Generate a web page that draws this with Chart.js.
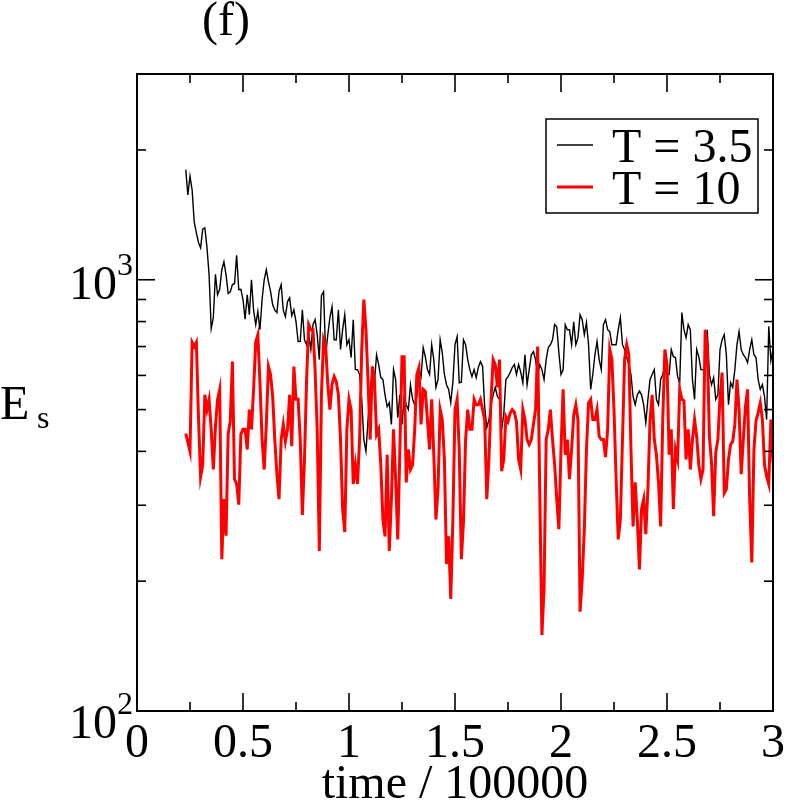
<!DOCTYPE html>
<html lang="en">
<head>
    <meta charset="UTF-8">
    <title>E_s vs time</title>
    <script src="https://cdn.jsdelivr.net/npm/chart.js"></script>
    <style>
        html, body { margin: 0; padding: 0; background: #fff; }
        #wrap { width: 786px; height: 803px; }
    </style>
</head>
<body>
<div id="wrap"><canvas id="esChart" width="786" height="803"></canvas></div>
<script>
    // time / 100000, sampled every 0.01
    const times = [
        0.23,0.24,0.25,0.26,0.27,0.28,0.29,0.30,0.31,0.32,0.33,0.34,0.35,0.36,0.37,0.38,0.39,0.40,0.41,0.42,
        0.43,0.44,0.45,0.46,0.47,0.48,0.49,0.50,0.51,0.52,0.53,0.54,0.55,0.56,0.57,0.58,0.59,0.60,0.61,0.62,
        0.63,0.64,0.65,0.66,0.67,0.68,0.69,0.70,0.71,0.72,0.73,0.74,0.75,0.76,0.77,0.78,0.79,0.80,0.81,0.82,
        0.83,0.84,0.85,0.86,0.87,0.88,0.89,0.90,0.91,0.92,0.93,0.94,0.95,0.96,0.97,0.98,0.99,1.00,1.01,1.02,
        1.03,1.04,1.05,1.06,1.07,1.08,1.09,1.10,1.11,1.12,1.13,1.14,1.15,1.16,1.17,1.18,1.19,1.20,1.21,1.22,
        1.23,1.24,1.25,1.26,1.27,1.28,1.29,1.30,1.31,1.32,1.33,1.34,1.35,1.36,1.37,1.38,1.39,1.40,1.41,1.42,
        1.43,1.44,1.45,1.46,1.47,1.48,1.49,1.50,1.51,1.52,1.53,1.54,1.55,1.56,1.57,1.58,1.59,1.60,1.61,1.62,
        1.63,1.64,1.65,1.66,1.67,1.68,1.69,1.70,1.71,1.72,1.73,1.74,1.75,1.76,1.77,1.78,1.79,1.80,1.81,1.82,
        1.83,1.84,1.85,1.86,1.87,1.88,1.89,1.90,1.91,1.92,1.93,1.94,1.95,1.96,1.97,1.98,1.99,2.00,2.01,2.02,
        2.03,2.04,2.05,2.06,2.07,2.08,2.09,2.10,2.11,2.12,2.13,2.14,2.15,2.16,2.17,2.18,2.19,2.20,2.21,2.22,
        2.23,2.24,2.25,2.26,2.27,2.28,2.29,2.30,2.31,2.32,2.33,2.34,2.35,2.36,2.37,2.38,2.39,2.40,2.41,2.42,
        2.43,2.44,2.45,2.46,2.47,2.48,2.49,2.50,2.51,2.52,2.53,2.54,2.55,2.56,2.57,2.58,2.59,2.60,2.61,2.62,
        2.63,2.64,2.65,2.66,2.67,2.68,2.69,2.70,2.71,2.72,2.73,2.74,2.75,2.76,2.77,2.78,2.79,2.80,2.81,2.82,
        2.83,2.84,2.85,2.86,2.87,2.88,2.89,2.90,2.91,2.92,2.93,2.94,2.95,2.96,2.97,2.98,2.99,3.00];

    // T = 3.5 (black)
    const esT35 = [
        1800,1572,1740,1615,1360,1285,1220,1186,1310,1319,1190,1027,770,817,1030,923,950,1055,1100,1027,
        930,938,975,979,1140,948,950,899,810,923,830,1000,850,787,845,766,900,1000,1055,990,
        940,875,850,839,940,974,850,821,890,908,825,852,800,719,720,852,726,707,746,689,
        787,808,746,653,918,938,670,746,817,866,726,726,852,689,766,830,707,726,660,808,
        619,619,603,528,426,400,474,557,619,580,670,636,593,587,541,508,519,462,619,587,
        479,541,462,533,513,500,571,528,513,536,619,596,696,663,619,603,707,653,563,587,
        726,677,603,571,557,519,579,707,738,577,579,726,707,653,619,596,619,593,626,646,
        630,508,454,474,513,541,563,536,528,450,487,587,596,609,626,636,603,636,611,577,
        670,571,619,670,681,653,603,636,619,587,653,696,707,726,787,778,677,603,619,787,
        766,766,707,799,707,734,830,808,746,795,707,557,603,670,719,653,619,787,808,766,
        758,707,707,707,766,817,707,689,660,636,603,536,513,541,552,541,513,466,528,587,
        603,619,528,513,587,603,632,603,603,689,663,660,596,577,839,766,734,787,766,587,
        528,689,663,619,619,612,766,603,571,593,528,541,689,726,746,670,513,577,563,619,
        707,758,689,670,660,642,689,726,670,660,587,557,571,536,474,780,650,689];

    // T = 10 (red)
    const esT10 = [
        440,420,400,716,700,716,480,349,372,541,500,528,450,363,456,528,557,225,310,255,
        438,471,646,345,336,301,438,450,450,404,500,450,557,716,745,577,426,363,462,629,
        603,536,426,354,310,426,462,422,450,541,411,629,528,528,426,285,383,587,787,766,
        766,619,450,235,541,726,700,572,500,572,596,580,541,426,294,260,450,528,500,336,
        372,336,426,689,900,766,577,426,629,587,438,450,372,278,254,393,235,310,450,345,
        250,404,663,663,339,404,363,372,450,603,626,462,557,551,474,404,528,393,278,327,
        500,474,383,219,254,182,278,500,528,404,225,275,426,500,450,450,528,513,513,528,
        500,474,310,383,528,653,636,563,653,360,383,481,469,490,500,493,469,383,363,500,
        474,426,415,426,462,500,700,320,150,192,426,450,500,426,372,310,264,404,557,393,
        426,345,404,485,513,474,170,202,264,404,518,528,474,474,500,433,426,426,388,450,
        690,653,500,345,250,278,426,653,707,670,404,268,339,278,213,294,310,257,327,474,
        541,426,393,339,268,474,689,636,393,450,294,404,383,557,528,524,383,450,363,426,
        474,433,372,345,363,766,700,433,377,283,398,426,534,609,320,327,383,415,422,462,
        587,500,354,426,508,557,310,221,404,471,492,518,474,372,350,336,474,377];

    const seriesLabels = ['T = 3.5', 'T = 10'];
    const xMajor = [0, 0.5, 1, 1.5, 2, 2.5, 3];
    const xTickLabels = ['0', '0.5', '1', '1.5', '2', '2.5', '3'];
    const xMinor = [0.25, 0.75, 1.25, 1.75, 2.25, 2.75];
    const yMajor = [100, 1000];
    const yTickExp = ['2', '3'];
    const yMinor = [200, 300, 400, 500, 600, 700, 800, 900, 2000, 3000];

    const SERIF = '"Liberation Serif", "Times New Roman", serif';

    function toPoints(vals) {
        return vals.map((v, i) => ({ x: times[i], y: v }));
    }

    function seg(ctx, x1, y1, x2, y2) {
        ctx.beginPath();
        ctx.moveTo(x1, y1);
        ctx.lineTo(x2, y2);
        ctx.stroke();
    }

    // frame, inward ticks, labels and legend in xmgrace style
    const gracePlugin = {
        id: 'grace',
        afterDraw(chart) {
            const ctx = chart.ctx;
            const a = chart.chartArea;
            const xs = chart.scales.x, ys = chart.scales.y;
            ctx.save();
            ctx.strokeStyle = '#000';
            ctx.fillStyle = '#000';

            ctx.lineWidth = 2;
            ctx.strokeRect(a.left, a.top, a.right - a.left, a.bottom - a.top);

            ctx.lineWidth = 1.6;
            xMajor.forEach(v => {
                const px = xs.getPixelForValue(v);
                seg(ctx, px, a.bottom, px, a.bottom - 18);
                seg(ctx, px, a.top, px, a.top + 18);
            });
            xMinor.forEach(v => {
                const px = xs.getPixelForValue(v);
                seg(ctx, px, a.bottom, px, a.bottom - 9);
                seg(ctx, px, a.top, px, a.top + 9);
            });
            yMajor.forEach(v => {
                const py = ys.getPixelForValue(v);
                seg(ctx, a.left, py, a.left + 18, py);
                seg(ctx, a.right, py, a.right - 18, py);
            });
            yMinor.forEach(v => {
                const py = ys.getPixelForValue(v);
                seg(ctx, a.left, py, a.left + 9, py);
                seg(ctx, a.right, py, a.right - 9, py);
            });

            // x tick labels
            ctx.font = '48px ' + SERIF;
            ctx.textAlign = 'center';
            ctx.textBaseline = 'alphabetic';
            xMajor.forEach((v, i) => {
                ctx.fillText(xTickLabels[i], xs.getPixelForValue(v), 757);
            });

            // y tick labels 10^n
            yMajor.forEach((v, i) => {
                const py = ys.getPixelForValue(v);
                const base = i === 0 ? py + 27 : py + 19;
                ctx.font = '48px ' + SERIF;
                ctx.textAlign = 'right';
                ctx.fillText('10', 117, base);
                ctx.font = '32px ' + SERIF;
                ctx.textAlign = 'left';
                ctx.fillText(yTickExp[i], 117, base - 24);
            });

            // axis titles
            ctx.font = '48px ' + SERIF;
            ctx.textAlign = 'center';
            ctx.fillText('time / 100000', (a.left + a.right) / 2, 798);
            ctx.textAlign = 'left';
            ctx.fillText('E', 0, 419);
            ctx.font = '32px ' + SERIF;
            ctx.fillText('s', 37, 428);

            // panel tag
            ctx.font = '48px ' + SERIF;
            ctx.textAlign = 'center';
            ctx.fillText('(f)', 226, 35);

            // legend
            ctx.lineWidth = 1.5;
            ctx.fillStyle = '#fff';
            ctx.fillRect(546, 119, 212, 94);
            ctx.strokeRect(546, 119, 212, 94);
            chart.data.datasets.forEach((ds, i) => {
                const ly = 145 + i * 42;
                ctx.strokeStyle = ds.borderColor;
                ctx.lineWidth = ds.borderWidth;
                seg(ctx, 557, ly, 593, ly);
                ctx.fillStyle = '#000';
                ctx.font = '48px ' + SERIF;
                ctx.textAlign = 'left';
                ctx.fillText(seriesLabels[i], 612, ly + 17);
            });
            ctx.restore();
        }
    };

    new Chart(document.getElementById('esChart'), {
        type: 'line',
        data: {
            datasets: [
                {
                    label: seriesLabels[0],
                    data: toPoints(esT35),
                    borderColor: '#000000',
                    borderWidth: 1.4,
                    order: 1
                },
                {
                    label: seriesLabels[1],
                    data: toPoints(esT10),
                    borderColor: '#ff0000',
                    borderWidth: 3,
                    order: 0
                }
            ]
        },
        options: {
            responsive: false,
            animation: false,
            devicePixelRatio: 1,
            layout: { padding: { left: 137, right: 13, top: 74, bottom: 92 } },
            elements: {
                point: { radius: 0 },
                line: { tension: 0, fill: false, borderJoinStyle: 'miter' }
            },
            plugins: {
                legend: { display: false },
                tooltip: { enabled: false }
            },
            scales: {
                x: { type: 'linear', min: 0, max: 3, display: false },
                y: { type: 'logarithmic', min: 100, max: 3000, display: false }
            }
        },
        plugins: [gracePlugin]
    });
</script>
</body>
</html>
